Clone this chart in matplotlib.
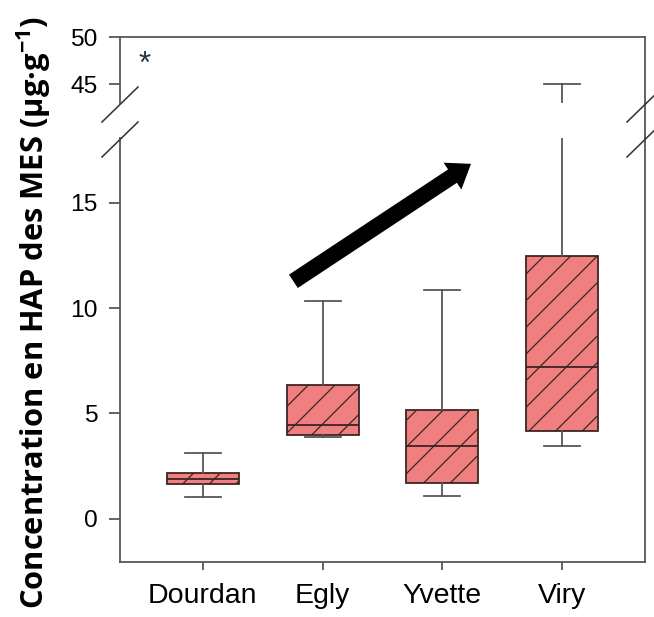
import numpy as np
import matplotlib
matplotlib.use("Agg")
import matplotlib.pyplot as plt
from matplotlib.lines import Line2D

# =========================================================
# DATA
# =========================================================

sites = ["Dourdan", "Egly", "Yvette", "Viry"]
whislo = [1.05, 3.9, 1.1, 3.45]
q1 = [1.66, 3.98, 1.7, 4.17]
med = [1.9, 4.45, 3.46, 7.2]
q3 = [2.18, 6.35, 5.17, 12.46]
whishi = [3.13, 10.33, 10.85, 45.0]

low_ticks = [0, 5, 10, 15]
high_ticks = [45, 50]

ylabel = "Concentration en HAP des MES (µg·g$^{\\mathbf{-1}}$)"

# =========================================================
# STYLE
# =========================================================

DPI = 160
plt.rcParams["font.family"] = ["Liberation Sans", "DejaVu Sans"]
plt.rcParams["hatch.linewidth"] = 0.55
plt.rcParams["mathtext.fontset"] = "custom"
plt.rcParams["mathtext.bf"] = "Open Sans:bold"

BOX_FACE = "#F08080"
BOX_EDGE = "#3b2222"
WHISK = "#555555"
SPINE = "#555555"

fig = plt.figure(figsize=(654 / DPI, 617 / DPI), dpi=DPI)

left = 120 / 654
right = 645 / 654
ax_low = fig.add_axes([left, 1 - 562 / 617, right - left, (562 - 138) / 617])
ax_high = fig.add_axes([left, 1 - 103 / 617, right - left, (103 - 37) / 617])

stats = []
for i, s in enumerate(sites):
    stats.append(dict(label=s, whislo=whislo[i], q1=q1[i], med=med[i],
                      q3=q3[i], whishi=whishi[i], fliers=[]))

pos = np.arange(1, len(sites) + 1)

for ax in (ax_low, ax_high):
    bp = ax.bxp(stats, positions=pos, widths=0.6, patch_artist=True,
                showfliers=False,
                boxprops=dict(facecolor=BOX_FACE, edgecolor=BOX_EDGE,
                              linewidth=0.8, hatch="//"),
                medianprops=dict(color=BOX_EDGE, linewidth=0.8),
                whiskerprops=dict(color=WHISK, linewidth=0.8),
                capprops=dict(color=WHISK, linewidth=0.8),
                capwidths=0.3)
    ax.set_xlim(0.308, 4.692)
    for sp in ax.spines.values():
        sp.set_color(SPINE)
        sp.set_linewidth(0.8)
    ax.tick_params(axis="y", direction="out", length=5, width=0.8,
                   color=SPINE, labelsize=11, pad=5)

ax_low.set_ylim(-2.04, 18.06)
ax_low.set_yticks(low_ticks)
ax_low.spines["top"].set_visible(False)
ax_low.set_xticks(pos)
ax_low.set_xticklabels(sites)
ax_low.tick_params(axis="x", direction="out", length=3.6, width=0.8,
                   color=SPINE, labelsize=12.8, pad=6)

ax_high.set_ylim(42.98, 50)
ax_high.set_yticks(high_ticks)
ax_high.spines["bottom"].set_visible(False)
ax_high.set_xticks([])

# asterisk in the high part
ax_high.text(0.517, 47.0, "*", color="#223344", fontsize=14,
             ha="center", va="center")

# trend arrow
ax_low.annotate("", xy=(3.27, 16.95), xytext=(1.725, 11.15),
                arrowprops=dict(arrowstyle="simple,head_length=1.0,head_width=1.45,tail_width=0.72",
                                mutation_scale=10, color="black", lw=0))

# right spine continues through the gap
fig.add_artist(Line2D([right, right], [1 - 103 / 617, 1 - 138 / 617],
                      color=SPINE, lw=0.8, transform=fig.transFigure))

# axis break marks
for xc in (left, right):
    for yc in (104.5, 139.5):
        x0 = xc - 18 / 654
        x1 = xc + 18 / 654
        y0 = 1 - (yc + 17.5) / 617
        y1 = 1 - (yc - 17.5) / 617
        fig.add_artist(Line2D([x0, x1], [y0, y1], color="#333333", lw=0.7,
                              transform=fig.transFigure))

fig.text(34 / 654, 0.494, ylabel, rotation=90, ha="center", va="center",
         fontsize=13.9, fontweight="bold", family=["Open Sans", "DejaVu Sans"])

fig.savefig("out.png", dpi=DPI)
